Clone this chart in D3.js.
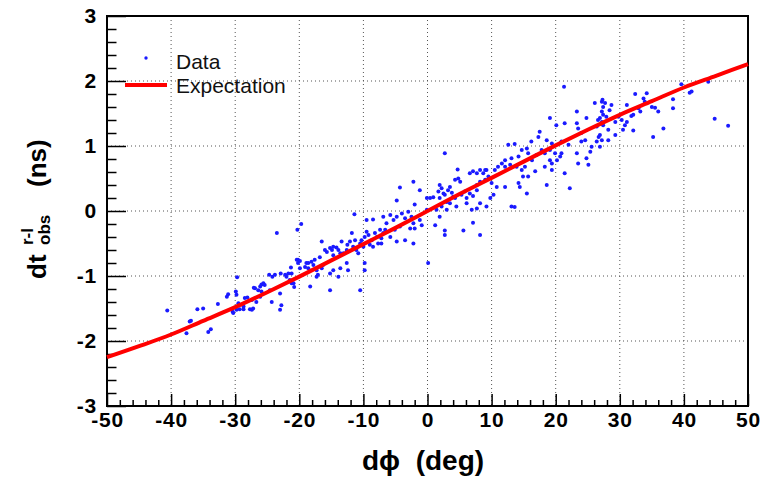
<!DOCTYPE html>
<html>
<head>
<meta charset="utf-8">
<script src="https://cdn.jsdelivr.net/npm/d3@7"></script>
<style>
body { margin: 0; background: #fff; }
text { font-family: "Liberation Sans", Arial, Helvetica, sans-serif; }
</style>
</head>
<body>
<div id="chart"></div>
<script>
// axis ticks
var xMajor = [-50, -40, -30, -20, -10, 0, 10, 20, 30, 40, 50];
var xMinor = [-48, -46, -44, -42, -38, -36, -34, -32, -28, -26, -24, -22, -18, -16, -14, -12, -8, -6, -4, -2,
	2, 4, 6, 8, 12, 14, 16, 18, 22, 24, 26, 28, 32, 34, 36, 38, 42, 44, 46, 48];
var yMajor = [-3, -2, -1, 0, 1, 2, 3];
var yMinor = [-2.8, -2.6, -2.4, -2.2, -1.8, -1.6, -1.4, -1.2, -0.8, -0.6, -0.4, -0.2,
	0.2, 0.4, 0.6, 0.8, 1.2, 1.4, 1.6, 1.8, 2.2, 2.4, 2.6, 2.8];

// expectation curve, read every 5 deg
var expectX = [-50, -45, -40, -35, -30, -25, -20, -15, -10, -5, 0, 5, 10, 15, 20, 25, 30, 35, 40, 45, 50];
var expectY = [-2.25, -2.08, -1.90, -1.69, -1.48, -1.25, -1.01, -0.76, -0.51, -0.26, 0, 0.26, 0.51, 0.76, 1.01, 1.25, 1.48, 1.69, 1.90, 2.08, 2.26];

// measured points [dphi, dt]
var dataPoints = [
	[-40.6,-1.53],[-37.6,-1.88],[-37.1,-1.70],[-36.9,-1.69],[-35.9,-1.51],[-35.0,-1.50],[-34.2,-1.86],[-33.8,-1.82],
	[-32.7,-1.43],[-31.3,-1.32],[-31.1,-1.28],[-30.4,-1.55],[-30.3,-1.57],[-29.8,-1.52],[-29.8,-1.29],[-29.7,-1.02],
	[-29.9,-1.24],[-29.5,-1.42],[-29.3,-1.51],[-28.7,-1.51],[-28.7,-1.47],[-28.5,-1.34],[-28.1,-1.33],[-27.7,-1.51],
	[-27.4,-1.52],[-27.2,-1.50],[-27.4,-1.37],[-26.9,-1.19],[-26.7,-1.40],[-26.4,-1.22],[-26.1,-1.32],
	[-27.1,-1.18],[-25.9,-1.13],[-25.6,-1.11],[-26.1,-1.16],[-25.9,-1.24],[-25.4,-1.14],[-24.7,-0.98],[-24.6,-1.22],
	[-24.3,-1.40],[-24.2,-1.01],[-23.8,-0.98],[-23.5,-0.34],[-23.0,-1.27],[-23.0,-1.52],[-22.8,-1.45],[-22.9,-0.96],
	[-22.2,-0.98],[-22.0,-1.01],[-21.7,-0.96],[-21.3,-0.87],[-21.2,-0.96],[-21.2,-1.11],[-20.9,-1.11],[-20.8,-1.17],
	[-21.5,-1.06],[-20.4,-0.75],[-20.3,-0.29],[-20.2,-0.75],[-20.2,-0.80],[-19.9,-0.77],[-19.9,-0.88],[-19.7,-0.20],
	[-19.1,-0.86],[-18.9,-0.80],[-18.6,-0.80],[-18.6,-0.88],[-18.3,-1.16],[-18.1,-0.78],[-17.8,-0.83],[-17.6,-0.75],
	[-17.3,-1.01],[-17.3,-0.91],[-17.1,-0.98],[-16.8,-0.71],[-16.5,-0.47],[-16.5,-0.88],[-16.3,-0.83],[-16.0,-0.60],
	[-15.7,-0.63],[-15.2,-0.57],[-15.2,-0.96],[-15.2,-1.22],[-14.9,-0.60],[-14.7,-0.55],[-14.7,-0.68],[-14.7,-0.91],
	[-14.2,-0.56],[-13.9,-0.60],[-13.9,-1.01],[-13.6,-0.65],[-13.6,-0.88],[-13.4,-0.47],[-13.1,-0.65],[-12.6,-0.60],
	[-12.6,-0.80],[-12.5,-0.52],[-12.4,-0.91],[-12.1,-0.47],
	[-11.8,-0.34],[-11.6,-0.55],[-11.4,-0.05],[-11.3,-0.45],[-11.1,-0.60],[-10.8,-0.65],[-10.5,-0.50],[-10.5,-1.22],
	[-10.3,-0.45],[-10.0,-0.55],[-9.8,-0.40],[-9.8,-0.91],[-9.8,-0.80],[-9.5,-0.32],[-9.5,-0.14],[-9.2,-0.37],
	[-9.0,-0.52],[-8.7,-0.45],[-8.5,-0.55],[-8.5,-0.13],[-8.2,-0.34],[-7.9,-0.40],[-7.7,-0.50],[-7.4,-0.29],
	[-7.2,-0.42],[-7.2,-0.50],[-6.9,-0.34],[-6.9,-0.09],[-6.6,-0.29],[-6.4,-0.19],
	[-5.8,-0.06],[-5.8,-0.40],[-5.3,-0.14],[-5.1,-0.29],[-4.8,-0.09],[-4.8,-0.47],[-4.8,0.16],[-4.3,0.36],
	[-4.3,-0.24],[-4.0,-0.04],[-3.5,-0.11],[-3.5,-0.45],[-3.0,-0.01],[-2.7,-0.27],[-2.5,-0.09],[-2.2,-0.19],
	[-2.2,-0.50],[-2.2,0.45],[-2.0,-0.27],[-2.0,0.10],[-1.2,0.32],[-1.2,-0.14],[-0.9,-0.22],[-0.1,0.20],[-0.1,0.02],
	[0.1,-0.80],[0.4,0.20],[0.9,0.21],[1.2,-0.22],[1.4,0.02],[1.7,0.30],[1.9,0.20],[1.9,-0.09],[1.9,0.40],
	[2.2,0.35],[2.2,0.07],[2.5,0.27],[2.7,0.25],[2.7,0.89],[2.7,-0.30],[2.7,-0.37],[3.0,0.14],[3.0,0.02],
	[3.2,0.32],[3.5,0.37],[3.5,0.12],[3.8,0.28],[4.0,0.22],[4.3,0.20],[4.3,0.48],[4.5,0.07],[4.7,0.64],
	[4.8,0.50],[5.1,0.45],[5.3,0.25],[5.6,-0.30],[5.8,0.30],[6.1,0.20],[6.1,0.12],[6.6,0.27],[6.6,0.58],
	[6.9,0.02],[7.1,0.61],[7.1,0.23],[7.1,-0.18],[7.7,0.58],[7.7,0.40],[7.7,0.32],[7.7,0.04],[8.2,0.63],
	[8.2,0.45],[8.2,0.12],[8.2,-0.37],[8.7,0.58],
	[9.0,0.48],[9.0,0.63],[9.2,0.63],[9.2,0.07],[9.5,0.53],[9.8,0.20],[10.0,0.43],[10.3,0.25],[10.5,0.63],
	[10.8,0.37],[11.0,0.68],[11.6,0.73],[12.1,0.78],[12.1,0.68],[12.1,0.37],[12.6,1.02],[12.9,0.71],[13.1,0.81],
	[13.1,0.07],[13.6,1.03],[13.6,0.06],[13.9,0.68],[14.2,0.84],[14.2,0.43],[14.4,0.37],[14.7,0.94],[14.7,0.63],
	[14.9,0.53],[15.2,0.68],[15.5,0.96],[15.5,0.27],[15.7,0.89],[15.7,0.53],
	[16.2,1.07],[16.3,0.78],[16.8,0.61],[17.0,0.86],[17.3,1.14],[17.5,1.22],[17.8,0.94],[18.3,0.89],[18.3,0.68],
	[18.6,1.09],[18.6,0.40],[19.1,1.43],[19.1,0.94],[19.1,0.78],[19.4,1.04],[19.4,0.73],[19.4,0.63],[19.9,0.89],
	[20.1,1.32],[20.2,0.78],[20.7,0.84],[20.9,1.07],[20.9,0.89],[21.3,1.91],[21.4,1.35],[21.4,0.58],[22.0,1.02],
	[22.2,0.35],
	[23.3,1.53],[23.3,1.35],[23.3,0.89],[23.5,1.27],[23.5,0.73],[24.0,1.20],[24.0,1.07],[24.6,1.09],[24.8,1.43],
	[24.8,0.81],[25.1,0.71],[25.4,0.91],[25.6,0.99],[26.1,1.66],[26.4,1.07],[26.4,1.30],[26.6,1.40],[26.7,1.14],
	[26.9,0.99],[26.9,1.43],[26.9,1.17],[27.2,1.68],[27.2,1.53],[27.2,1.37],[27.2,1.09],[27.3,1.71],[27.4,1.60],
	[27.4,1.48],[27.4,1.32],[27.7,1.66],[27.9,1.45],[28.2,1.25],[28.2,1.09],[28.4,1.55],[28.7,1.63],[29.3,1.37],
	[29.3,1.17],[29.8,1.45],
	[30.3,1.40],[30.5,1.25],[30.8,1.32],[31.1,1.63],[31.1,1.37],[31.8,1.46],[32.1,1.48],[32.1,1.24],[32.4,1.80],
	[32.9,1.58],[33.2,1.53],[33.7,1.73],[33.9,1.68],[34.2,1.81],[35.0,1.60],[35.2,1.14],[35.5,1.59],[36.0,1.53],
	[36.8,1.27],[38.3,1.72],[38.3,1.58],[39.6,1.95],[40.9,1.82],[41.2,1.84],[43.8,1.99],[44.8,1.42],[46.9,1.31]
];

var legendLabels = ['Data', 'Expectation'];

window.onload = function () {
	var width = 770, height = 479;
	var left = 107, right = 748, top = 16, bottom = 406;

	var svg = d3.select('#chart').append('svg')
		.attr('width', width)
		.attr('height', height);

	var x = d3.scaleLinear().domain([-50, 50]).range([left, right]);
	var y = d3.scaleLinear().domain([-3, 3]).range([bottom, top]);

	// dotted grid at major ticks
	var grid = svg.append('g');
	grid.selectAll('line.gx')
		.data(xMajor.slice(1, -1))
		.enter().append('line')
		.attr('x1', function (d) { return x(d); })
		.attr('x2', function (d) { return x(d); })
		.attr('y1', top).attr('y2', bottom);
	grid.selectAll('line.gy')
		.data(yMajor.slice(1, -1))
		.enter().append('line')
		.attr('y1', function (d) { return y(d); })
		.attr('y2', function (d) { return y(d); })
		.attr('x1', left).attr('x2', right);
	grid.selectAll('line')
		.attr('stroke', '#555')
		.attr('stroke-width', 1)
		.attr('stroke-dasharray', '1,3');

	// minor ticks, no labels
	var minorX = svg.append('g')
		.attr('transform', 'translate(0,' + bottom + ')')
		.call(d3.axisBottom(x).tickValues(xMinor).tickSize(-6).tickFormat(''));
	var minorY = svg.append('g')
		.attr('transform', 'translate(' + left + ',0)')
		.call(d3.axisLeft(y).tickValues(yMinor).tickSize(-9.5).tickFormat(''));
	minorX.selectAll('text').remove();
	minorY.selectAll('text').remove();

	// major ticks point into the frame
	var xAxis = svg.append('g')
		.attr('transform', 'translate(0,' + bottom + ')')
		.call(d3.axisBottom(x).tickValues(xMajor).tickSize(-12).tickPadding(6));
	var yAxis = svg.append('g')
		.attr('transform', 'translate(' + left + ',0)')
		.call(d3.axisLeft(y).tickValues(yMajor).tickSize(-19).tickPadding(10));

	svg.selectAll('.domain').remove();
	svg.selectAll('.tick line').attr('stroke', '#000').attr('stroke-width', 1.5);
	[xAxis, yAxis].forEach(function (ax) {
		ax.selectAll('.tick text')
			.attr('fill', '#000')
			.style('font-family', '"Liberation Sans", Arial, sans-serif')
			.style('font-size', '21px')
			.style('font-weight', 'bold')
			.style('letter-spacing', '0.8px')
			.text(function (d) { return d < 0 ? '-' + Math.abs(d) : d; });
	});

	// frame
	svg.append('rect')
		.attr('x', left).attr('y', top)
		.attr('width', right - left).attr('height', bottom - top)
		.attr('fill', 'none')
		.attr('stroke', '#000')
		.attr('stroke-width', 2);

	// points
	svg.append('g').selectAll('circle')
		.data(dataPoints)
		.enter().append('circle')
		.attr('cx', function (d) { return x(d[0]); })
		.attr('cy', function (d) { return y(d[1]); })
		.attr('r', 2)
		.attr('fill', '#1a1aff');

	// expectation
	var line = d3.line()
		.x(function (d, i) { return x(expectX[i]); })
		.y(function (d) { return y(d); })
		.curve(d3.curveMonotoneX);
	svg.append('path')
		.attr('d', line(expectY))
		.attr('fill', 'none')
		.attr('stroke', '#ff0000')
		.attr('stroke-width', 4);

	// legend
	var legend = svg.append('g');
	legend.append('circle')
		.attr('cx', 146).attr('cy', 58).attr('r', 1.7)
		.attr('fill', '#1a1aff');
	legend.append('line')
		.attr('x1', 125).attr('x2', 167)
		.attr('y1', 85).attr('y2', 85)
		.attr('stroke', '#ff0000')
		.attr('stroke-width', 4);
	legend.selectAll('text')
		.data(legendLabels)
		.enter().append('text')
		.attr('x', 176)
		.attr('y', function (d, i) { return 69 + i * 24; })
		.style('font-size', '21px')
		.attr('fill', '#111')
		.text(function (d) { return d; });

	// axis titles
	svg.append('text')
		.attr('x', 362).attr('y', 470)
		.style('font-size', '28px')
		.style('font-weight', 'bold')
		.attr('xml:space', 'preserve')
		.text('d\u03d5  (deg)');

	var yTitle = svg.append('g')
		.attr('transform', 'translate(46,279) rotate(-90)')
		.style('font-weight', 'bold');
	yTitle.append('text')
		.attr('x', 0).attr('y', 0)
		.style('font-size', '26px')
		.text('dt');
	yTitle.append('text')
		.attr('x', 34).attr('y', -13)
		.style('font-size', '17px')
		.text('r-l');
	yTitle.append('text')
		.attr('x', 34).attr('y', 4)
		.style('font-size', '17px')
		.text('obs');
	yTitle.append('text')
		.attr('x', 92).attr('y', 0)
		.style('font-size', '26px')
		.text('(ns)');
};
</script>
</body>
</html>
